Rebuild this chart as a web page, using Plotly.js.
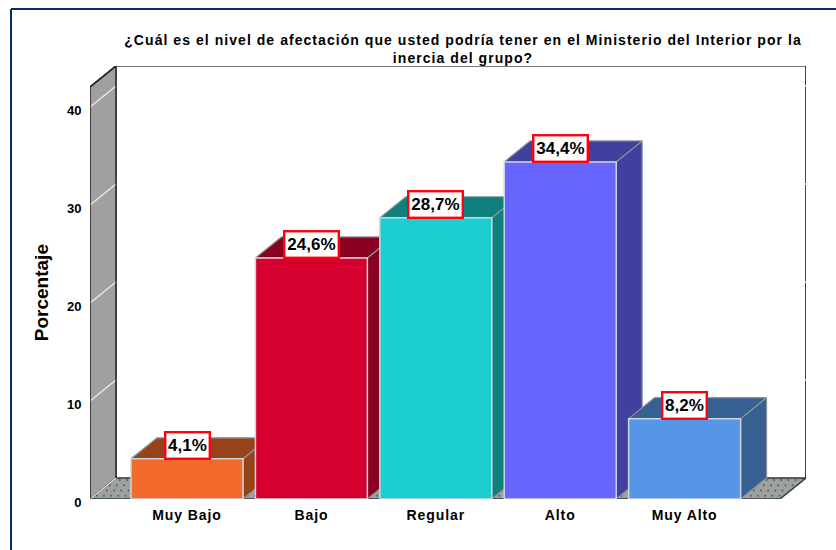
<!DOCTYPE html>
<html>
<head>
<meta charset="utf-8">
<script src="https://cdn.plot.ly/plotly-3.0.1.min.js"></script>
<style>
html,body{margin:0;padding:0;background:#fff;overflow:hidden}
#chart{width:836px;height:550px}
.xtick text{letter-spacing:.9px}
.gtitle{letter-spacing:1.05px}
</style>
</head>
<body>
<div id="chart"></div>
<script>
// Survey results: level of affectation, percentages per category
const categories = ['Muy Bajo', 'Bajo', 'Regular', 'Alto', 'Muy Alto'];
const values = [4.1, 24.6, 28.7, 34.4, 8.2];
const frontColors = ['#f46a2a', '#d6002f', '#1bcfd0', '#6666ff', '#5596e6'];
const shadeColors = ['#97431a', '#8a0020', '#10807c', '#41409f', '#365f92'];
const yTicks = [0, 10, 20, 30, 40];

// Plot-area size and scale
const W = 836, H = 550;
const m = {l: 90, r: 30, t: 66, b: 51};
const pxPerCat = 124.4, pxPerUnit = 9.8;
const xMin = -97 / pxPerCat;
const xMax = xMin + (W - m.l - m.r) / pxPerCat;
const yMax = (H - m.t - m.b) / pxPerUnit;

// Oblique depth of the pseudo-3D box, in axis units
const dx = 26 / pxPerCat, dy = 21 / pxPerUnit;
const barW = 0.9;
const wallTop = yMax - dy;
const floorRight = xMax - dx;

function poly(xs, ys, fill, line, width) {
  return {
    type: 'scatter', mode: 'lines', x: xs.concat(xs[0]), y: ys.concat(ys[0]),
    fill: 'toself', fillcolor: fill,
    line: {color: line, width: width},
    hoverinfo: 'skip', showlegend: false, cliponaxis: false
  };
}
function seg(xs, ys, color, width) {
  return {
    type: 'scatter', mode: 'lines', x: xs, y: ys,
    line: {color: color, width: width},
    hoverinfo: 'skip', showlegend: false, cliponaxis: false
  };
}

const traces = [];

// Left wall
traces.push(poly([xMin, xMin, xMin + dx, xMin + dx], [0, wallTop, yMax, dy], '#a0a0a0', '#3c3c3c', 1.6));

// Floor with its dot texture
traces.push(poly([xMin, xMin + dx, xMax, floorRight], [0, dy, dy, 0], '#a0a0a0', '#2e3a3a', 1.4));
const dotX = [], dotY = [];
for (let r = 0; r < 4; r++) {
  for (let c = 0; c < 96; c++) {
    const yy = (r + 0.6) * dy / 4;
    const xx = xMin + yy / dy * dx + (c + 0.4 + (r % 2) * 0.5) * (floorRight - xMin) / 96;
    dotX.push(xx); dotY.push(yy);
  }
}
traces.push({
  type: 'scatter', mode: 'markers', x: dotX, y: dotY,
  marker: {size: 2, color: '#3a6a68'},
  hoverinfo: 'skip', showlegend: false
});

// Back wall outline
traces.push(seg([xMin + dx, xMax], [yMax, yMax], '#4a4a4a', 1.6));
traces.push(seg([xMax, xMax], [yMax, dy], '#111111', 1.6));

// Grid lines running along both walls
yTicks.forEach(function (t) {
  if (t === 0) {
    traces.push(seg([xMin, xMin + dx], [0, dy], '#e8e8e8', 1.2));
  } else {
    traces.push(seg([xMin, xMin + dx], [t, t + dy], '#ececec', 1.3));
    traces.push(seg([xMin + dx, xMax + 0.01], [t + dy, t + dy], '#ffffff', 1.3));
  }
});

// Inner wall edge and floor corner
traces.push(seg([xMin + dx, xMin + dx], [dy, yMax], '#3c3c3c', 1.6));
traces.push(seg([xMin, xMin], [0, wallTop], '#3c3c3c', 1.6));
traces.push(seg([xMin, xMin + dx], [wallTop, yMax], '#222222', 1.6));

// Top and side faces of each column, left to right
values.forEach(function (v, i) {
  const x0 = i - barW / 2, x1 = i + barW / 2;
  traces.push(poly([x1, x1 + dx, x1 + dx, x1], [0, dy, v + dy, v], shadeColors[i], '#8f9499', 1.2));
  traces.push(poly([x0, x0 + dx, x1 + dx, x1], [v, v + dy, v + dy, v], shadeColors[i], '#8f9499', 1.2));
});

// Front faces sit on an overlaid subplot so they cover the neighbouring side faces
traces.push({
  type: 'bar', x: categories.map(function (c, i) { return i; }), y: values,
  xaxis: 'x2', yaxis: 'y2', width: barW,
  marker: {color: frontColors, line: {color: '#cdd4e2', width: 1.5}},
  hoverinfo: 'skip', showlegend: false
});

// Red-boxed percentage labels resting on the front top edge
const labels = values.map(function (v, i) {
  const text = v.toFixed(1).replace('.', ',') + '%';
  return {
    x: i, y: v, xref: 'x', yref: 'y', xanchor: 'center', yanchor: 'bottom',
    text: text, width: text.length > 4 ? 50 : 40, height: 22,
    showarrow: false, bgcolor: '#ffffff', bordercolor: '#ff0010', borderwidth: 2.4, borderpad: 1,
    font: {family: 'Liberation Sans, Arial, sans-serif', size: 17, color: '#000', weight: 700},
    yshift: -1
  };
});

// Axis caption, centred on the lower part of the value scale
labels.push({
  xref: 'paper', yref: 'y', x: (41 - m.l) / (W - m.l - m.r), y: 21, xanchor: 'center', yanchor: 'middle',
  text: 'Porcentaje', textangle: -90, showarrow: false,
  font: {family: 'Liberation Sans, Arial, sans-serif', size: 19, color: '#000', weight: 700}
});

const plotW = W - m.l - m.r, plotH = H - m.t - m.b;
const layout = {
  width: W, height: H, margin: m, showlegend: false,
  paper_bgcolor: '#ffffff', plot_bgcolor: '#ffffff',
  font: {family: 'Liberation Sans, Arial, sans-serif', color: '#000'},
  title: {
    text: '¿Cuál es el nivel de afectación que usted podría tener en el Ministerio del Interior por la<br>inercia del grupo?',
    font: {size: 14, weight: 700, color: '#000'},
    x: 463 / W, xanchor: 'center', y: 1 - 44.5 / H, yanchor: 'top'
  },
  xaxis: {
    range: [xMin, xMax], tickmode: 'array', tickvals: categories.map(function (c, i) { return i; }), ticktext: categories,
    showgrid: false, zeroline: false, showline: false, ticklen: 3, tickcolor: 'rgba(0,0,0,0)',
    tickfont: {size: 14, weight: 700, color: '#000'}, fixedrange: true
  },
  yaxis: {
    range: [0, yMax], tickmode: 'array', tickvals: yTicks, ticktext: yTicks.map(String),
    showgrid: false, zeroline: false, showline: false, ticklen: 5, tickcolor: 'rgba(0,0,0,0)',
    tickfont: {size: 13, weight: 700, color: '#000'}, fixedrange: true,
    ticklabelshift: 3
  },
  xaxis2: {range: [xMin, xMax], overlaying: 'x', visible: false, fixedrange: true},
  yaxis2: {range: [0, yMax], overlaying: 'y', visible: false, fixedrange: true},
  annotations: labels,
  // Navy frame along the top and left of the figure
  shapes: [
    {type: 'line', xref: 'paper', yref: 'paper', x0: (11 - m.l) / plotW, x1: (W - m.l) / plotW,
     y0: (H - m.b - 9) / plotH, y1: (H - m.b - 9) / plotH, line: {color: '#0b2a6f', width: 2}},
    {type: 'line', xref: 'paper', yref: 'paper', x0: (11 - m.l) / plotW, x1: (11 - m.l) / plotW,
     y0: (H - m.b - 9) / plotH, y1: -m.b / plotH, line: {color: '#0b2a6f', width: 2}}
  ]
};

Plotly.newPlot('chart', traces, layout, {displayModeBar: false, staticPlot: true});
</script>
</body>
</html>
